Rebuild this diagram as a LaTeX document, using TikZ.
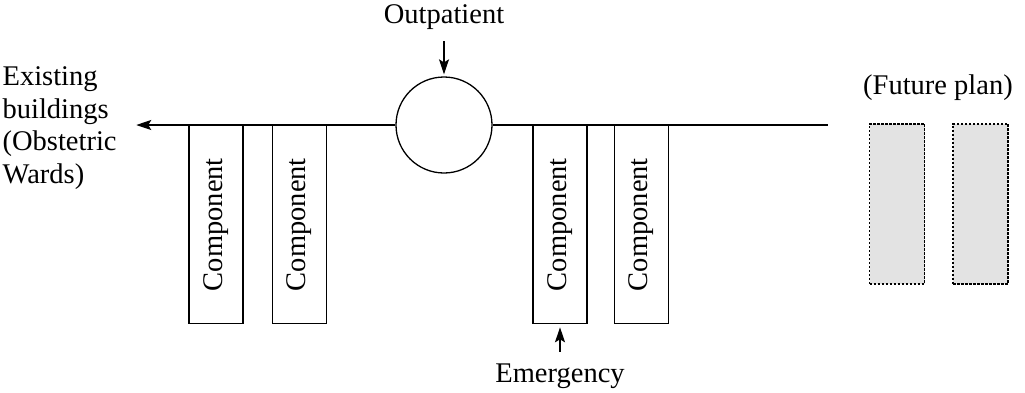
\documentclass[tikz,border=0pt]{standalone}
\usepackage{fontspec}
\setmainfont{Liberation Serif}
\usetikzlibrary{positioning,arrows.meta,calc}

\begin{document}
\begin{tikzpicture}[
				x=1pt, y=-1pt,
				node distance={28pt},
				line width=1.3pt,
				font=\fontsize{28.5}{32.5}\selectfont,
				comp/.style = {draw, rectangle, minimum width=54pt, minimum height=198pt, inner sep=0pt},
				future/.style = {draw, rectangle, dash pattern=on 2.5pt off 1.5pt, line width=1.7pt, fill=gray!22, minimum width=55pt, minimum height=160pt},
				arr/.style = {-{Stealth[length=15pt,width=10pt,inset=3pt]}}
			]
			\useasboundingbox (0,0) rectangle (1025,392);
			\node[draw, circle, minimum size=96pt, inner sep=0pt] (hub) at (444,125) {};
			\node (outp) at (444,17) {Outpatient};
			\node[anchor=west, align=left, inner xsep=1pt, inner ysep=1pt] (exist) at (1,128) {Existing\\buildings\\(Obstetric\\Wards)};
			\coordinate (lineend) at (828,125);
			\node[comp, anchor=north] (comp1) at (216,125) {\rotatebox{90}{Component}};
			\node[comp] (comp2) [right=28pt of comp1] {\rotatebox{90}{Component}};
			\node[comp, anchor=north] (comp3) at (560,125) {\rotatebox{90}{Component}};
			\node[comp] (comp4) [right=26pt of comp3] {\rotatebox{90}{Component}};
			\node (emerg) at (560,376) {Emergency};
			\node[future, anchor=north] (fut1) at (897,123) {};
			\node[future] (fut2) [right=27pt of fut1] {};
			\node (futlabel) at (938,88) {(Future plan)};
			\draw[arr] (hub.west) -- ($(hub.west -| exist.east)+(18,0)$);
			\draw (hub.east) -- (lineend);
			\draw[arr, shorten <=8pt, shorten >=2pt] (outp.south) -- (hub.north);
			\draw[arr, shorten <=8pt, shorten >=3pt] (emerg.north) -- (comp3.south);
		\end{tikzpicture}
\end{document}
